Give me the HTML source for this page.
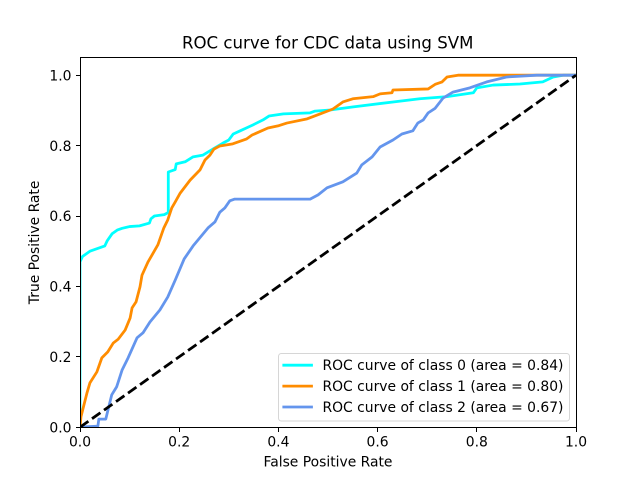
<!DOCTYPE html>
<html>
<head>
<meta charset="utf-8">
<title>ROC curve for CDC data using SVM</title>
<style>
html,body{margin:0;padding:0;background:#fff;}
svg{display:block;}
text{font-family:"DejaVu Sans","Liberation Sans",sans-serif;fill:#000;}
</style>
</head>
<body>
<svg id="chart" xmlns="http://www.w3.org/2000/svg" width="640" height="480" viewBox="0 0 640 480">
  <rect x="0" y="0" width="640" height="480" fill="#fff"/>
  <text x="327.7" y="48.5" font-size="16.6" text-anchor="middle">ROC curve for CDC data using SVM</text>
  <g id="plot"></g>
  <g id="ticks"></g>
  <text x="328" y="466.5" font-size="13.89" text-anchor="middle">False Positive Rate</text>
  <text transform="translate(39,242.4) rotate(-90)" font-size="13.89" text-anchor="middle">True Positive Rate</text>
  <g id="legend"></g>
</svg>
<script>
var xTickValues = [0, 0.2, 0.4, 0.6, 0.8, 1];
var yTickValues = [0, 0.2, 0.4, 0.6, 0.8, 1];
var tickLabels = ['0.0', '0.2', '0.4', '0.6', '0.8', '1.0'];
var classNames = ['class 0', 'class 1', 'class 2'];
var classAreas = ['0.84', '0.80', '0.67'];
var classColors = ['#00ffff', '#ff8c00', '#6495ed'];

var fprClass0 = [0, 0, 0.005, 0.01, 0.02, 0.03, 0.05, 0.055, 0.065, 0.075, 0.085, 0.1, 0.12, 0.14, 0.143, 0.15, 0.17, 0.178, 0.178, 0.192, 0.194, 0.212, 0.228, 0.248, 0.268, 0.288, 0.3, 0.309, 0.323, 0.349, 0.369, 0.381, 0.41, 0.464, 0.474, 0.504, 0.551, 0.631, 0.685, 0.74, 0.793, 0.8, 0.833, 0.887, 0.933, 0.954, 0.974, 1];
var tprClass0 = [0, 0.47, 0.485, 0.49, 0.5, 0.505, 0.515, 0.53, 0.55, 0.56, 0.565, 0.57, 0.572, 0.58, 0.592, 0.6, 0.604, 0.61, 0.725, 0.732, 0.748, 0.754, 0.768, 0.773, 0.79, 0.807, 0.816, 0.833, 0.842, 0.859, 0.873, 0.884, 0.89, 0.893, 0.898, 0.901, 0.91, 0.924, 0.933, 0.939, 0.95, 0.964, 0.972, 0.975, 0.981, 0.995, 1, 1];

var fprClass1 = [0, 0.002, 0.014, 0.02, 0.034, 0.044, 0.056, 0.067, 0.077, 0.091, 0.101, 0.105, 0.113, 0.121, 0.125, 0.137, 0.157, 0.165, 0.169, 0.177, 0.185, 0.192, 0.202, 0.222, 0.242, 0.252, 0.262, 0.27, 0.282, 0.308, 0.336, 0.347, 0.379, 0.399, 0.417, 0.458, 0.484, 0.51, 0.53, 0.55, 0.591, 0.605, 0.629, 0.631, 0.702, 0.716, 0.73, 0.74, 0.762, 1];
var tprClass1 = [0, 0.03, 0.097, 0.126, 0.157, 0.197, 0.214, 0.239, 0.25, 0.276, 0.31, 0.339, 0.356, 0.399, 0.432, 0.469, 0.518, 0.55, 0.566, 0.589, 0.623, 0.64, 0.665, 0.702, 0.731, 0.759, 0.773, 0.79, 0.799, 0.805, 0.819, 0.83, 0.85, 0.856, 0.864, 0.876, 0.89, 0.904, 0.924, 0.933, 0.939, 0.947, 0.95, 0.958, 0.961, 0.974, 0.981, 0.995, 1, 1];

var fprClass2 = [0, 0.036, 0.038, 0.052, 0.058, 0.064, 0.074, 0.085, 0.097, 0.115, 0.127, 0.141, 0.161, 0.177, 0.192, 0.21, 0.228, 0.258, 0.272, 0.282, 0.292, 0.302, 0.312, 0.464, 0.48, 0.498, 0.53, 0.558, 0.568, 0.589, 0.605, 0.631, 0.649, 0.671, 0.681, 0.692, 0.702, 0.716, 0.732, 0.752, 0.786, 0.82, 0.861, 0.921, 1];
var tprClass2 = [0, 0.003, 0.023, 0.023, 0.058, 0.092, 0.115, 0.163, 0.197, 0.254, 0.268, 0.299, 0.333, 0.37, 0.418, 0.478, 0.515, 0.566, 0.583, 0.611, 0.623, 0.643, 0.648, 0.648, 0.66, 0.68, 0.697, 0.722, 0.745, 0.768, 0.796, 0.816, 0.833, 0.842, 0.864, 0.873, 0.893, 0.906, 0.935, 0.952, 0.964, 0.981, 0.995, 1, 1];

var diagonalX = [0, 1];
var diagonalY = [0, 1];

var SVG_NS = 'http://www.w3.org/2000/svg';
var plotLeft = 80, plotRight = 576, plotTop = 57.6, plotBottom = 427.2;
var xMin = 0, xMax = 1, yMin = 0, yMax = 1.05;

function xScale(v) { return plotLeft + (v - xMin) / (xMax - xMin) * (plotRight - plotLeft); }
function yScale(v) { return plotBottom - (v - yMin) / (yMax - yMin) * (plotBottom - plotTop); }
function snap(p) { return Math.floor(p) + 0.5; }

function svgEl(tag, attrs, parent) {
  var el = document.createElementNS(SVG_NS, tag);
  for (var k in attrs) { el.setAttribute(k, attrs[k]); }
  parent.appendChild(el);
  return el;
}

function linePoints(xs, ys) {
  var out = [];
  for (var i = 0; i < xs.length; i++) {
    out.push(xScale(xs[i]).toFixed(2) + ',' + yScale(ys[i]).toFixed(2));
  }
  return out.join(' ');
}

var plot = document.getElementById('plot');
var ticks = document.getElementById('ticks');
var legend = document.getElementById('legend');

var clip = svgEl('clipPath', { id: 'plot-clip' }, plot);
svgEl('rect', { x: plotLeft, y: plotTop, width: plotRight - plotLeft, height: plotBottom - plotTop }, clip);

var seriesX = [fprClass0, fprClass1, fprClass2];
var seriesY = [tprClass0, tprClass1, tprClass2];
var seriesNames = ['roc-line-class-0', 'roc-line-class-1', 'roc-line-class-2'];

for (var s = 0; s < seriesX.length; s++) {
  var line = svgEl('polyline', {
    points: linePoints(seriesX[s], seriesY[s]),
    fill: 'none',
    stroke: classColors[s],
    'stroke-width': 2.78,
    'stroke-linejoin': 'round',
    'clip-path': 'url(#plot-clip)'
  }, plot);
  
  
}

var diagonal = svgEl('polyline', {
  points: linePoints(diagonalX, diagonalY),
  fill: 'none',
  stroke: '#000',
  'stroke-width': 2.78,
  'stroke-dasharray': '10.28 4.44',
  'clip-path': 'url(#plot-clip)'
}, plot);



var frameLeft = snap(plotLeft), frameRight = snap(plotRight), frameTop = snap(plotTop), frameBottom = snap(plotBottom);
var frame = svgEl('rect', {
  x: frameLeft, y: frameTop, width: frameRight - frameLeft, height: frameBottom - frameTop,
  fill: 'none', stroke: '#000', 'stroke-width': 1
}, plot);



for (var i = 0; i < xTickValues.length; i++) {
  var xp = xScale(xTickValues[i]);
  var xTick = svgEl('line', { x1: snap(xp), x2: snap(xp), y1: frameBottom, y2: frameBottom + 4.5, stroke: '#000', 'stroke-width': 1 }, ticks);
  
  
  var xLabel = svgEl('text', { x: xp, y: 446.5, 'font-size': 13.89, 'text-anchor': 'middle' }, ticks);
  xLabel.textContent = tickLabels[i];
  
  
}

for (var j = 0; j < yTickValues.length; j++) {
  var yp = yScale(yTickValues[j]);
  var yTick = svgEl('line', { x1: frameLeft - 4.5, x2: frameLeft, y1: snap(yp), y2: snap(yp), stroke: '#000', 'stroke-width': 1 }, ticks);
  
  
  var yLabel = svgEl('text', { x: 71.5, y: yp + 5.2, 'font-size': 13.89, 'text-anchor': 'end' }, ticks);
  yLabel.textContent = tickLabels[j];
  
  
}

var legendBox = svgEl('rect', {
  x: 278.5, y: 353.5, width: 291, height: 67.5, rx: 2.8, ry: 2.8,
  fill: '#fff', 'fill-opacity': 0.8, stroke: '#cccccc', 'stroke-opacity': 0.8, 'stroke-width': 1
}, legend);



for (var n = 0; n < classNames.length; n++) {
  var rowY = 365.2 + n * 20.9;
  var swatch = svgEl('line', { x1: 282.4, x2: 312.9, y1: rowY, y2: rowY, stroke: classColors[n], 'stroke-width': 2.78 }, legend);
  
  
  var entry = svgEl('text', { x: 322.5, y: rowY + 5, 'font-size': 13.89 }, legend);
  entry.textContent = 'ROC curve of ' + classNames[n] + ' (area = ' + classAreas[n] + ')';
  
  
}
</script>
</body>
</html>
